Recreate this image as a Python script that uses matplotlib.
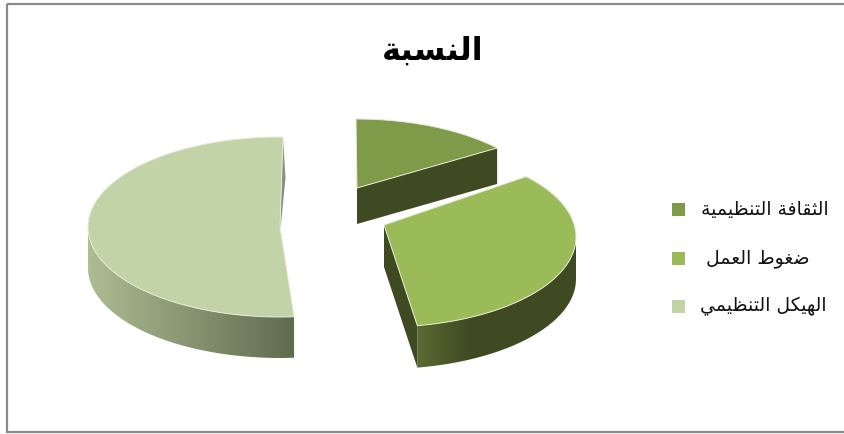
import numpy as np
import matplotlib
matplotlib.use('Agg')
import matplotlib.pyplot as plt
from matplotlib.colors import LinearSegmentedColormap
from matplotlib.patches import PathPatch, Polygon, Rectangle
from matplotlib.path import Path

title = 'النسبة'
categories = ['الثقافة التنظيمية', 'ضغوط العمل', 'الهيكل التنظيمي']
shares = [13, 35, 52]
top_colors = ['#7f9a48', '#9bbb59', '#c3d3a8']
wall_colors = [None, ['#5a6b33', '#3f4a22', '#3f4a22', '#3f4a22'], ['#adbc93', '#5f6b4f']]
cut_colors = ['#3f4a23', '#3f4a23', '#8c8f86']

# centre of the rim ellipse, apex of the wedge and wall height for each slice
centers = [(356, 209), (384, 237), (280, 227)]
apexes = [(357, 188), (384, 225), (280, 227)]
depths = [36, 42, 41]
# the view foreshortens the rim, so its ends sit a little off the true angles (degrees)
rim_nudge = [(0, 0.5), (1, -2.8), (3, 0.9)]
RX, RY = 192, 90
label_right = [829, 809, 827]
legend_y = [209.5, 258.5, 306]

# contextual forms: isolated, final, initial, medial
FORMS = {
    'ا': (0xFE8D, 0xFE8E), 'ب': (0xFE8F, 0xFE90, 0xFE91, 0xFE92), 'ة': (0xFE93, 0xFE94),
    'ت': (0xFE95, 0xFE96, 0xFE97, 0xFE98), 'ث': (0xFE99, 0xFE9A, 0xFE9B, 0xFE9C),
    'س': (0xFEB1, 0xFEB2, 0xFEB3, 0xFEB4), 'ض': (0xFEBD, 0xFEBE, 0xFEBF, 0xFEC0),
    'ط': (0xFEC1, 0xFEC2, 0xFEC3, 0xFEC4), 'ظ': (0xFEC5, 0xFEC6, 0xFEC7, 0xFEC8),
    'ع': (0xFEC9, 0xFECA, 0xFECB, 0xFECC), 'غ': (0xFECD, 0xFECE, 0xFECF, 0xFED0),
    'ف': (0xFED1, 0xFED2, 0xFED3, 0xFED4), 'ق': (0xFED5, 0xFED6, 0xFED7, 0xFED8),
    'ك': (0xFED9, 0xFEDA, 0xFEDB, 0xFEDC), 'ل': (0xFEDD, 0xFEDE, 0xFEDF, 0xFEE0),
    'م': (0xFEE1, 0xFEE2, 0xFEE3, 0xFEE4), 'ن': (0xFEE5, 0xFEE6, 0xFEE7, 0xFEE8),
    'ه': (0xFEE9, 0xFEEA, 0xFEEB, 0xFEEC), 'و': (0xFEED, 0xFEEE),
    'ي': (0xFEF1, 0xFEF2, 0xFEF3, 0xFEF4),
}


def shape_arabic(text):
    # matplotlib has no bidi or shaping, so pick joined glyphs and reverse the order
    out = []
    for i, ch in enumerate(text):
        if ch not in FORMS:
            out.append(ch)
            continue
        prev_ch = text[i - 1] if i > 0 else ' '
        next_ch = text[i + 1] if i + 1 < len(text) else ' '
        joins_prev = prev_ch in FORMS and len(FORMS[prev_ch]) == 4
        joins_next = next_ch in FORMS and len(FORMS[ch]) == 4
        if joins_prev and joins_next:
            code = FORMS[ch][3]
        elif joins_next:
            code = FORMS[ch][2]
        elif joins_prev:
            code = FORMS[ch][1]
        else:
            code = FORMS[ch][0]
        out.append(chr(code))
    return ''.join(reversed(out))


def rim(center, start, stop):
    t = np.radians(np.linspace(start, stop, 120))
    return np.column_stack([center[0] + RX * np.sin(t), center[1] - RY * np.cos(t)])


def gradient_fill(ax, pts, colors, zorder):
    x0, x1 = pts[:, 0].min(), pts[:, 0].max()
    y0, y1 = pts[:, 1].min(), pts[:, 1].max()
    cmap = LinearSegmentedColormap.from_list('wall', colors)
    img = ax.imshow(np.linspace(0, 1, 256)[None, :], cmap=cmap, extent=(x0, x1, y1, y0),
                    aspect='auto', zorder=zorder, interpolation='bilinear')
    patch = PathPatch(Path(pts), transform=ax.transData, fc='none', ec='none')
    ax.add_patch(patch)
    img.set_clip_path(patch)


fig = plt.figure(figsize=(8.44, 4.34), dpi=100)
ax = fig.add_axes([0, 0, 1, 1])

angles = np.cumsum([0] + shares) / sum(shares) * 360

for i in range(len(shares)):
    start = angles[i] + rim_nudge[i][0]
    stop = angles[i + 1] + rim_nudge[i][1]
    edge = rim(centers[i], start, stop)
    apex = np.array(apexes[i], dtype=float)
    down = np.array([0, depths[i]])

    # outer wall, only the part of the rim facing the viewer
    if wall_colors[i] is not None:
        front = rim(centers[i], max(start, 90), min(stop, 270))
        wall = np.vstack([front, (front + down)[::-1]])
        gradient_fill(ax, wall, wall_colors[i], 2)

    # cut faces
    if i < 2:
        end_pt = edge[-1]
        ax.add_patch(Polygon([apex, end_pt, end_pt + down, apex + down], fc=cut_colors[i], ec='none', zorder=3))
    else:
        # sliver of the far cut showing past the top edge
        top_pt = edge[-1]
        ax.add_patch(Polygon([top_pt, top_pt + (2.5, depths[i]), apex + (1, -3), apex],
                             fc=cut_colors[i], ec='none', zorder=1))

    top = np.vstack([apex, edge])
    ax.add_patch(Polygon(top, closed=True, fc=top_colors[i], ec='#e6ecd8', lw=0.7, zorder=4))

for label, color, right, y in zip(categories, top_colors, label_right, legend_y):
    ax.add_patch(Rectangle((672, y - 6.5), 13, 13, fc=color, ec='none', zorder=5))
    ax.text(right, y, shape_arabic(label), ha='right', va='center', fontsize=13.5,
            family='DejaVu Sans', color='#111111')

ax.text(433, 51, shape_arabic(title), ha='center', va='center', fontsize=23,
        fontweight='bold', family='DejaVu Sans', color='black')

# chart frame, its right side runs off the canvas
ax.add_patch(Rectangle((7, 4), 840, 428, fc='none', ec='#8a8a8a', lw=1.6, zorder=6))

ax.set_xlim(0, 844)
ax.set_ylim(434, 0)
ax.axis('off')
fig.savefig('out.png', dpi=100)
